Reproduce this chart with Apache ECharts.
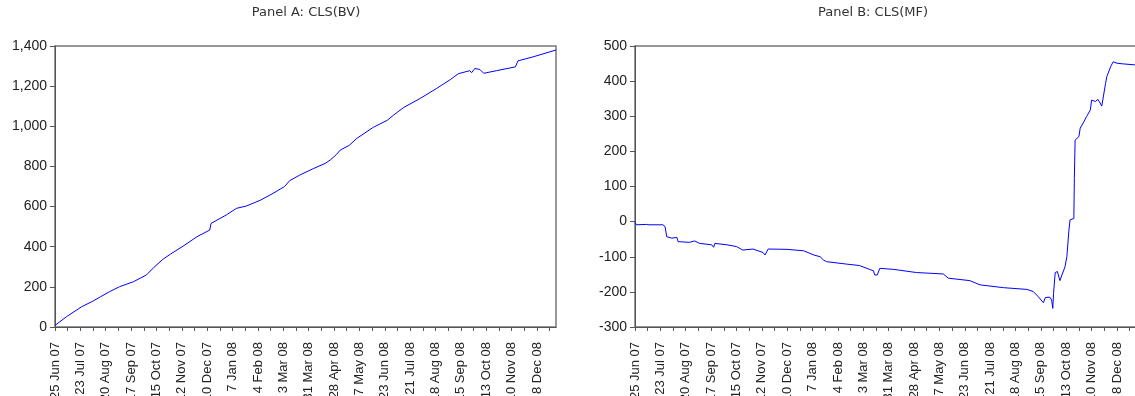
<!DOCTYPE html>
<html>
<head>
<meta charset="utf-8">
<script src="https://cdn.jsdelivr.net/npm/echarts@6/dist/echarts.min.js"></script>
<style>
html,body{margin:0;padding:0;background:#fff;}
#chart{width:1135px;height:396px;}
</style>
</head>
<body>
<div id="chart"></div>
<script>
// Date tick labels (every 20 trading days, 25 Jun 2007 .. 31 Dec 2008 = 396 obs)
const tickLabels = ['25 Jun 07','23 Jul 07','20 Aug 07','17 Sep 07','15 Oct 07','12 Nov 07','10 Dec 07','7 Jan 08','4 Feb 08','3 Mar 08','31 Mar 08','28 Apr 08','27 May 08','23 Jun 08','21 Jul 08','18 Aug 08','15 Sep 08','13 Oct 08','10 Nov 08','8 Dec 08'];
const lastObs = 395;

// Panel A: CLS(BV) — observation index and value
const bvIdx = [0, 9, 21, 29, 36, 43, 51, 62, 72, 78, 85, 91, 101, 112, 122, 123, 135, 143, 151, 162, 172, 181, 185, 193, 204, 213, 217, 222, 225, 232, 238, 251, 262, 267, 275, 288, 301, 312, 318, 327, 328.5, 331, 335, 338, 348, 363, 365, 377, 395];
const bvVal = [8, 51, 101, 126, 151, 176, 201, 226, 259, 297, 337, 363, 403, 450, 483, 516, 558, 591, 603, 632, 666, 700, 729, 757, 790, 815, 832, 860, 882, 905, 940, 995, 1030, 1056, 1094, 1139, 1189, 1234, 1262, 1277, 1267, 1288, 1283, 1264, 1277, 1296, 1326, 1346, 1380];

// Panel B: CLS(MF)
const mfIdx = [0, 1, 9, 10, 11, 22, 23.7, 25, 29, 33, 34, 43, 47, 51, 60.5, 62, 63, 72.5, 80, 85, 93, 101, 102.5, 105, 120, 133, 141, 146, 148.5, 151, 167, 177, 185, 188, 189, 191, 193, 204, 222, 243, 247, 264, 272, 290.5, 309, 314, 318, 322, 323.5, 327, 328.5, 329.4, 330, 331.3, 333, 335, 336.6, 338, 339, 340.5, 342, 343, 346, 346.4, 347, 350, 351, 354, 356, 359, 360, 363, 365, 366, 368, 371, 372, 375, 377, 380, 385, 395];
const mfVal = [-2, -9, -8, -5, -9, -9, -14, -43, -47, -45, -57, -59, -55, -62, -66, -73, -62, -66, -71, -81, -78, -88, -95, -78, -79, -83, -95, -100, -109, -114, -121, -125, -136, -140, -152, -152, -133, -136, -145, -149, -161, -168, -180, -188, -193, -199, -214, -231, -216, -215, -223, -247, -204, -145, -142, -168, -152, -157, -129, -100, -29, 5, 9, 123, 232, 242, 266, 285, 299, 318, 346, 342, 348, 342, 329, 393, 413, 441, 455, 451, 449, 446];

const pairs = (xs, ys) => xs.map((x, i) => [x, ys[i]]);

const axisColor = '#555';
const fontFam = 'Liberation Sans, Arial, sans-serif';

function xAxisFor(gridIndex) {
  return {
    type: 'value', gridIndex, min: 0, max: lastObs, interval: 10,
    axisLine: {show: true, onZero: false, lineStyle: {color: axisColor, width: 1}},
    axisTick: {show: true, length: 4, lineStyle: {color: axisColor}},
    splitLine: {show: false},
    axisLabel: {
      rotate: 90, margin: 15, showMaxLabel: false,
      color: '#222', fontSize: 13, fontFamily: fontFam,
      formatter: v => (v % 20 === 0 && tickLabels[v / 20] !== undefined) ? tickLabels[v / 20] : ''
    }
  };
}
function yAxisFor(gridIndex, min, max, interval) {
  return {
    type: 'value', gridIndex, min, max, interval,
    axisLine: {show: true, lineStyle: {color: axisColor, width: 1}},
    axisTick: {show: true, length: 5, lineStyle: {color: axisColor}},
    splitLine: {show: false},
    axisLabel: {margin: 8, color: '#222', fontSize: 14, fontFamily: fontFam}
  };
}

const chart = echarts.init(document.getElementById('chart'), null, {renderer: 'canvas'});
chart.setOption({
  animation: false,
  backgroundColor: '#fff',
  graphic: [
    {type: 'text', x: 306, y: 13, style: {text: 'Panel A: CLS(BV)', font: '13px "DejaVu Sans"', fill: '#333', align: 'center', verticalAlign: 'middle'}},
    {type: 'text', x: 873, y: 13, style: {text: 'Panel B: CLS(MF)', font: '13px "DejaVu Sans"', fill: '#333', align: 'center', verticalAlign: 'middle'}}
  ],
  grid: [
    {left: 55, right: 579, top: 46, bottom: 69, show: true, borderColor: '#777', borderWidth: 1.5, containLabel: false, outerBoundsMode: 'none'},
    {left: 635, right: -1, top: 46, bottom: 69, show: true, borderColor: '#777', borderWidth: 1.5, containLabel: false, outerBoundsMode: 'none'}
  ],
  xAxis: [xAxisFor(0), xAxisFor(1)],
  yAxis: [yAxisFor(0, 0, 1400, 200), yAxisFor(1, -300, 500, 100)],
  series: [
    {type: 'line', xAxisIndex: 0, yAxisIndex: 0, data: pairs(bvIdx, bvVal), showSymbol: false, lineStyle: {color: '#0000ff', width: 1}},
    {type: 'line', xAxisIndex: 1, yAxisIndex: 1, data: pairs(mfIdx, mfVal), showSymbol: false, lineStyle: {color: '#0000ff', width: 1}}
  ]
});
</script>
</body>
</html>
